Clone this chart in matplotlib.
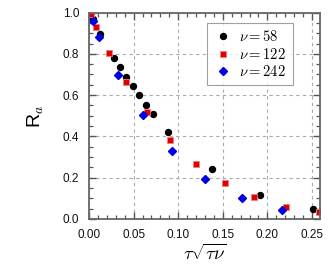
import matplotlib
matplotlib.use("Agg")
import matplotlib.pyplot as plt
from matplotlib.ticker import MultipleLocator

plt.rcParams['font.family'] = ['Liberation Sans', 'DejaVu Sans']
plt.rcParams['mathtext.fontset'] = 'cm'

x58 = [0.004, 0.012, 0.028, 0.035, 0.041, 0.049, 0.056, 0.0635, 0.072, 0.089, 0.1375, 0.192, 0.251]
y58 = [0.968, 0.897, 0.78, 0.735, 0.69, 0.645, 0.599, 0.553, 0.51, 0.421, 0.24, 0.118, 0.048]
x122 = [0.002, 0.008, 0.0224, 0.042, 0.065, 0.091, 0.120, 0.152, 0.185, 0.221, 0.258]
y122 = [0.991, 0.928, 0.802, 0.662, 0.52, 0.381, 0.266, 0.173, 0.105, 0.058, 0.032]
x242 = [0.004, 0.011, 0.032, 0.061, 0.093, 0.130, 0.1715, 0.2167]
y242 = [0.957, 0.88, 0.696, 0.505, 0.329, 0.194, 0.10, 0.0436]
labels = [r'$\nu = 58$', r'$\nu = 122$', r'$\nu = 242$']

fig = plt.figure(figsize=(3.32, 2.73), dpi=100)
ax = fig.add_axes([0.268, 0.198, 0.696, 0.756])

ax.plot(x58, y58, 'o', color='black', ms=4.3, ls='none', label=labels[0])
ax.plot(x122, y122, 's', color='#e00000', mec='#f08080', mew=0.6, ms=4.8, ls='none', label=labels[1])
ax.plot(x242, y242, 'D', color='#0000e0', ms=4.2, ls='none', label=labels[2])

ax.set_xlim(0, 0.259)
ax.set_ylim(0, 1.0)
ax.xaxis.set_major_locator(MultipleLocator(0.05))
ax.xaxis.set_minor_locator(MultipleLocator(0.01))
ax.yaxis.set_major_locator(MultipleLocator(0.2))
ax.yaxis.set_minor_locator(MultipleLocator(0.05))
ax.xaxis.set_major_formatter(matplotlib.ticker.FormatStrFormatter('%.2f'))
ax.yaxis.set_major_formatter(matplotlib.ticker.FormatStrFormatter('%.1f'))

ax.grid(True, which='major', ls=(0, (3, 3)), color='#aaaaaa', lw=0.8)
ax.tick_params(which='both', direction='in', top=True, right=True, color='#555555',
               labelsize=8.5, labelcolor='#111111')
ax.tick_params(which='major', length=5, width=1.0, pad=7)
ax.tick_params(which='minor', length=3, width=0.9)
for s in ax.spines.values():
    s.set_color('#666666')
    s.set_linewidth(1.3)

fig.text(205 / 332, 1 - 244 / 273, r'$\tau\sqrt{\tau\nu}$', fontsize=13.5,
         ha='center', va='top')
ax.set_ylabel(r'R$_a$', fontsize=14, labelpad=12)

leg = ax.legend(loc='upper left', bbox_to_anchor=(0.512, 0.95), fontsize=10.5, frameon=True,
                fancybox=False, edgecolor='#888888', handletextpad=0.4, borderpad=0.45,
                labelspacing=0.15, handlelength=1.3, borderaxespad=0)
leg.get_frame().set_linewidth(0.8)
for t in leg.get_texts():
    t.set_text(t.get_text() + ' ')

fig.savefig('out.png', dpi=100)
